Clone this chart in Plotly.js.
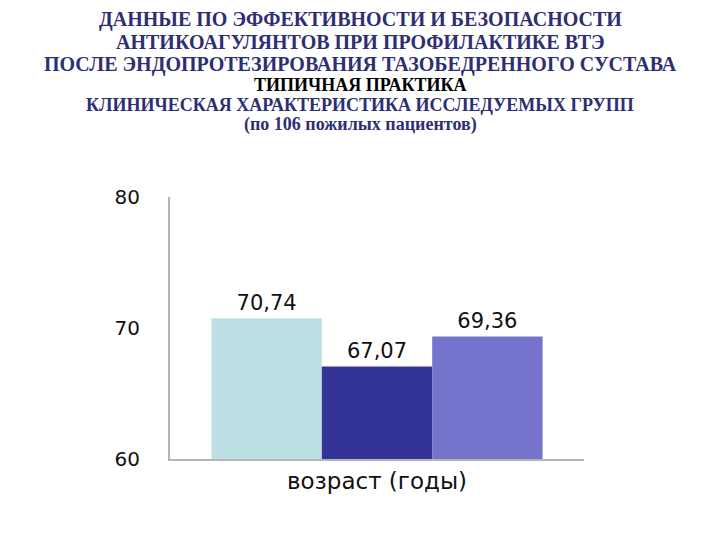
<!DOCTYPE html>
<html>
<head>
<meta charset="utf-8">
<script src="https://cdn.plot.ly/plotly-3.0.1.min.js"></script>
<style>html,body{margin:0;padding:0;background:#fff;}#chart{width:720px;height:540px;}</style>
</head>
<body>
<div id="chart"></div>
<script>
// Data
const categories = ["возраст (годы)"];
const groupA = [70.74];
const groupB = [67.07];
const groupC = [69.36];
const seriesColors = ["#BCE0E3", "#343496", "#7673CC"];
const yTicks = [60, 70, 80];
const titleLines = [
  "ДАННЫЕ ПО ЭФФЕКТИВНОСТИ И БЕЗОПАСНОСТИ",
  "АНТИКОАГУЛЯНТОВ ПРИ ПРОФИЛАКТИКЕ ВТЭ",
  "ПОСЛЕ ЭНДОПРОТЕЗИРОВАНИЯ ТАЗОБЕДРЕННОГО СУСТАВА",
  "ТИПИЧНАЯ ПРАКТИКА",
  "КЛИНИЧЕСКАЯ ХАРАКТЕРИСТИКА ИССЛЕДУЕМЫХ ГРУПП",
  "(по 106 пожилых пациентов)"
];

const plotTop = 197, plotBottom = 459, plotLeft = 170, plotRight = 584;
const lineCenters = [19.5, 42.5, 64, 84.5, 104.5, 124];
const lineSizes = [20, 20, 20, 18, 18, 18];
const lineColors = ["#2E2E73", "#2E2E73", "#2E2E73", "#000000", "#2E2E73", "#2E2E73"];

const series = [groupA, groupB, groupC];
const traces = series.map((vals, i) => ({
  type: "bar",
  x: categories,
  y: vals,
  base: 0,
  marker: {color: seriesColors[i], line: {width: 0}},
  text: vals,
  texttemplate: "%{y:.2f}",
  textposition: "outside",
  cliponaxis: false,
  textfont: {family: "DejaVu Sans", size: 21, color: "#111"},
  hoverinfo: "skip",
  showlegend: false
}));

const annotations = titleLines.map((t, i) => ({
  text: "<b>" + t + "</b>",
  xref: "paper", yref: "paper",
  x: (360 - plotLeft) / (plotRight - plotLeft),
  y: (plotBottom - lineCenters[i]) / (plotBottom - plotTop),
  xanchor: "center", yanchor: "middle",
  showarrow: false,
  font: {family: "Liberation Serif, 'Times New Roman', serif", size: lineSizes[i], color: lineColors[i]}
}));

const layout = {
  width: 720, height: 540,
  margin: {l: plotLeft, r: 720 - plotRight, t: plotTop, b: 540 - plotBottom, pad: 0},
  paper_bgcolor: "#fff", plot_bgcolor: "#fff",
  barmode: "group", bargap: 0.2, bargroupgap: 0,
  separators: ", ",
  showlegend: false,
  xaxis: {
    type: "category",
    showline: true, linecolor: "#B4B4B4", linewidth: 2,
    showgrid: false, zeroline: false, ticks: "",
    tickfont: {family: "DejaVu Sans", size: 23, color: "#111"},
    fixedrange: true
  },
  yaxis: {
    range: [60, 80], tickvals: yTicks, ticktext: yTicks.map(String),
    showline: true, linecolor: "#B4B4B4", linewidth: 2,
    showgrid: false, zeroline: false, ticks: "",
    ticklabelstandoff: 24,
    tickfont: {family: "DejaVu Sans", size: 20, color: "#111"},
    fixedrange: true
  },
  annotations: annotations
};

Plotly.newPlot("chart", traces, layout, {displayModeBar: false, staticPlot: true});
</script>
</body>
</html>
